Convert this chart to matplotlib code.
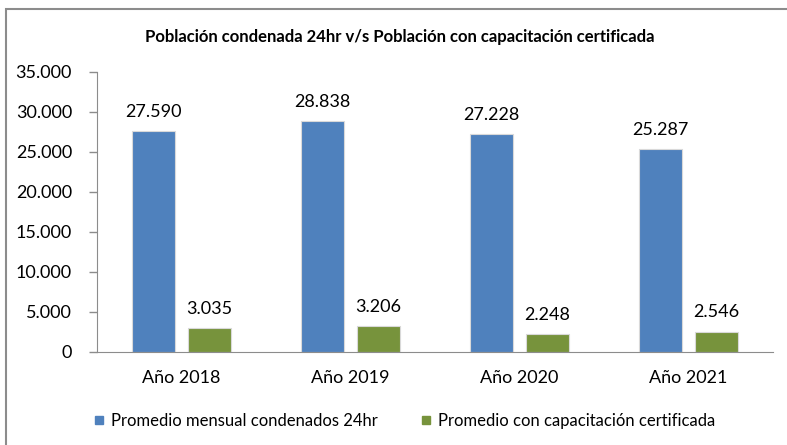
import matplotlib
matplotlib.use("Agg")
import matplotlib.pyplot as plt
from matplotlib.lines import Line2D
from matplotlib.patches import Rectangle
from matplotlib.ticker import FuncFormatter, MultipleLocator
import numpy as np

categories = ["Año 2018", "Año 2019", "Año 2020", "Año 2021"]
condenados = [27590, 28838, 27228, 25287]
capacitacion = [3035, 3206, 2248, 2546]
series_names = ["Promedio mensual condenados 24hr", "Promedio con capacitación certificada"]
title = "Población condenada 24hr v/s Población con capacitación certificada"

plt.rcParams['font.family'] = ['Lato', 'DejaVu Sans']

W, H = 787, 445
fig = plt.figure(figsize=(W/100, H/100), dpi=100)

# frame around chart (left and top visible)
fig.patches.append(Rectangle((6/W, -0.05), 1.2, (H-9)/H + 0.05, transform=fig.transFigure,
                             fill=False, edgecolor='#8c8c8c', linewidth=1.5))

x0, x1 = 97, 773
y0, y1 = 352, 71.5
ax = fig.add_axes([x0/W, 1 - y0/H, (x1-x0)/W, (y0-y1)/H])

blue = '#4F81BD'
green = '#77933C'
x = np.arange(len(categories))
off = 0.166
w = 0.255
b1 = ax.bar(x - off, condenados, w, color=blue, edgecolor='#d9d9d9', linewidth=0.8)
b2 = ax.bar(x + off, capacitacion, w, color=green, edgecolor='#d9d9d9', linewidth=0.8)

fmt = lambda v: f"{int(v):,}".replace(",", ".")
for bars, vals in ((b1, condenados), (b2, capacitacion)):
    for r, v in zip(bars, vals):
        ax.annotate(fmt(v), (r.get_x() + r.get_width()/2, v), xytext=(0, 8),
                    textcoords='offset points', ha='center', va='bottom', fontsize=13)

ax.set_xlim(-0.5, len(categories) - 0.5)
ax.set_ylim(0, 35000)
ax.yaxis.set_major_locator(MultipleLocator(5000))
ax.yaxis.set_major_formatter(FuncFormatter(lambda v, p: fmt(v)))
ax.set_xticks(x)
ax.set_xticklabels(categories)
ax.tick_params(axis='x', length=0, labelsize=13, pad=13)
ax.tick_params(axis='y', length=6, width=1, color='#8c8c8c', labelsize=13, pad=12)
for s in ('top', 'right'):
    ax.spines[s].set_visible(False)
ax.spines['left'].set_color('#8c8c8c')
ax.spines['bottom'].set_color('#8c8c8c')

fig.text(400/W, 1 - 37/H, title, ha='center', va='center', fontsize=12, fontweight='bold')

handles = [Line2D([], [], linestyle='none', marker='s', markersize=6, color=blue),
           Line2D([], [], linestyle='none', marker='s', markersize=6, color=green)]
fig.legend(handles, series_names, loc='center', bbox_to_anchor=(403/W, 1 - 421/H), ncol=2,
           frameon=False, fontsize=12, handletextpad=0.2, columnspacing=2.4, handlelength=1.0)

fig.savefig("out.png", dpi=100)
